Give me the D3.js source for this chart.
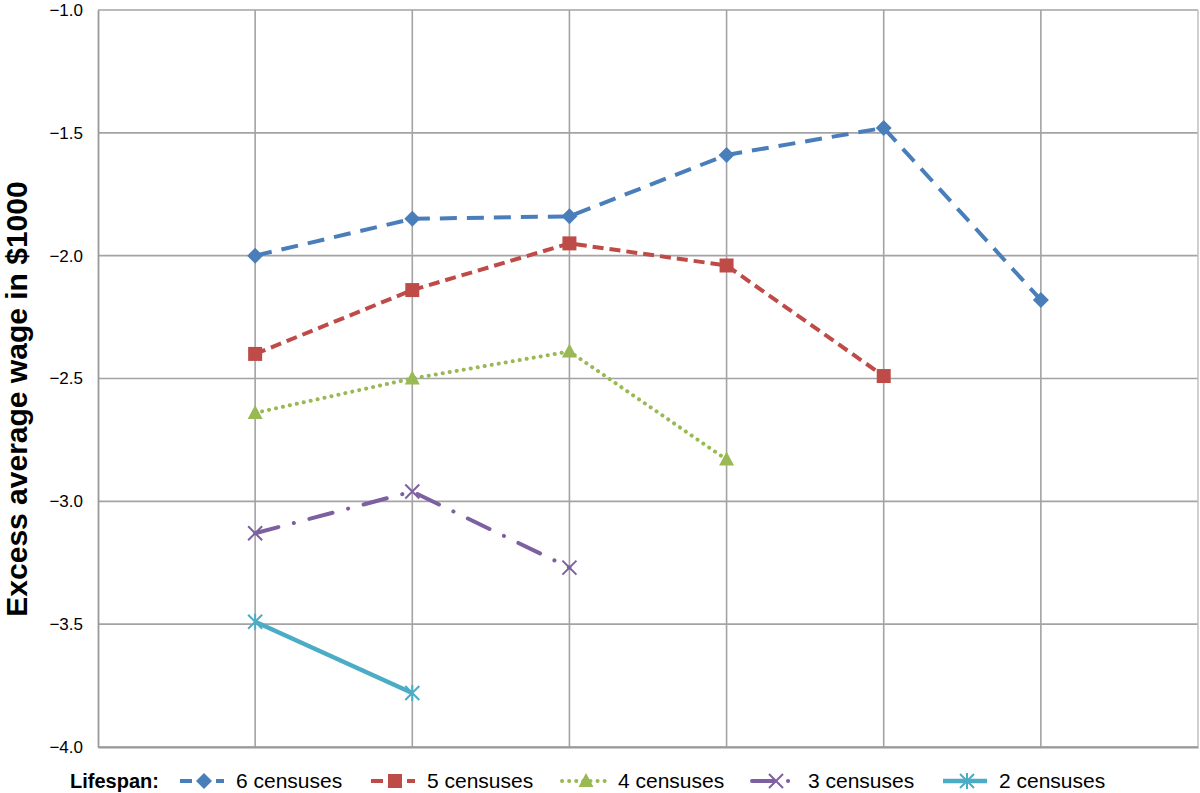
<!DOCTYPE html>
<html>
<head>
<meta charset="utf-8">
<script src="https://cdn.jsdelivr.net/npm/d3@7"></script>
<style>
  body { margin: 0; background: #fff; }
  svg { display: block; }
  text { font-family: "Liberation Sans", Arial, Helvetica, sans-serif; fill: #000; }
</style>
</head>
<body>
<svg width="1200" height="793"></svg>
<script>
// census position on the x axis (1..6)
const categories = [1, 2, 3, 4, 5, 6];
const yTicks = [-4.0, -3.5, -3.0, -2.5, -2.0, -1.5, -1.0];

const seriesNames = ["6 censuses", "5 censuses", "4 censuses", "3 censuses", "2 censuses"];
const wage6 = [-2.00, -1.85, -1.84, -1.59, -1.48, -2.18];
const wage5 = [-2.40, -2.14, -1.95, -2.04, -2.49];
const wage4 = [-2.64, -2.50, -2.39, -2.83];
const wage3 = [-3.13, -2.96, -3.27];
const wage2 = [-3.49, -3.78];

const seriesValues = [wage6, wage5, wage4, wage3, wage2];

const styles = [
    {color: "#4a7ebb", dash: "17 10", cap: "butt", width: 4, marker: "diamond"},
    {color: "#be4b48", dash: "11 6", cap: "butt", width: 4, marker: "square"},
    {color: "#98b954", dash: "0.1 7", cap: "round", width: 4, marker: "triangle"},
    {color: "#7d60a0", dash: "24 16 0.1 16", cap: "round", width: 4, marker: "x"},
    {color: "#4bacc6", dash: null, cap: "butt", width: 4.5, marker: "star"}
];

let svg = d3.select("svg");

let plotLeft = 98, plotRight = 1198, plotTop = 10, plotBottom = 747;

let x = d3.scaleLinear().domain([0, 7]).range([plotLeft, plotRight]);
let y = d3.scaleLinear().domain([-4, -1]).range([plotBottom, plotTop]);

let grid = svg.append("g").attr("class", "grid");

grid.selectAll("line.h")
    .data(yTicks)
    .enter()
    .append("line")
    .attr("class", "h")
    .attr("x1", plotLeft)
    .attr("x2", plotRight)
    .attr("y1", d => y(d))
    .attr("y2", d => y(d))
    .attr("stroke", "#a3a3a3")
    .attr("stroke-width", 1.6);

grid.selectAll("line.v")
    .data(categories)
    .enter()
    .append("line")
    .attr("class", "v")
    .attr("x1", d => x(d))
    .attr("x2", d => x(d))
    .attr("y1", plotTop)
    .attr("y2", plotBottom)
    .attr("stroke", "#a3a3a3")
    .attr("stroke-width", 1.6);

// right edge of the plot frame is lighter
svg.append("line")
    .attr("x1", plotRight).attr("x2", plotRight)
    .attr("y1", plotTop).attr("y2", plotBottom)
    .attr("stroke", "#c4c4c4").attr("stroke-width", 1.6);

let yAxis = svg.append("g")
    .attr("transform", `translate(${plotLeft},0)`)
    .call(d3.axisLeft(y).tickValues(yTicks).tickSize(0).tickPadding(15).tickFormat(d3.format(".1f")));
yAxis.select(".domain").attr("stroke", "#999").attr("stroke-width", 1.8);
yAxis.selectAll("text")
    .attr("font-size", 17)
    .attr("font-family", "Liberation Sans, Arial, sans-serif")
    .attr("fill", "#111");

let xAxis = svg.append("g")
    .attr("transform", `translate(0,${plotBottom})`)
    .call(d3.axisBottom(x).tickValues([]).tickSize(0));
xAxis.select(".domain").attr("stroke", "#999").attr("stroke-width", 2);

svg.append("text")
    .attr("transform", "translate(27,399) rotate(-90)")
    .attr("text-anchor", "middle")
    .attr("font-size", 30)
    .attr("font-weight", "bold")
    .text("Excess average wage in $1000");

function markerPath(type) {
    const s = 7;
    if (type === "diamond") return `M0,${-s - 1}L${s + 1},0L0,${s + 1}L${-s - 1},0Z`;
    if (type === "square") return `M${-s},${-s}H${s}V${s}H${-s}Z`;
    if (type === "triangle") return `M0,${-s - 1}L${s + 0.5},${s - 1}L${-s - 0.5},${s - 1}Z`;
    if (type === "x") return `M${-s},${-s}L${s},${s}M${-s},${s}L${s},${-s}`;
    return `M${-s},${-s}L${s},${s}M${-s},${s}L${s},${-s}M0,${-s - 1}L0,${s + 1}`;
}

function drawMarker(g, style, cx, cy) {
    let filled = style.marker !== "x" && style.marker !== "star";
    g.append("path")
        .attr("d", markerPath(style.marker))
        .attr("transform", `translate(${cx},${cy})`)
        .attr("fill", filled ? style.color : "none")
        .attr("stroke", style.color)
        .attr("stroke-width", filled ? 0 : 2);
}

let line = d3.line()
    .x((d, i) => x(categories[i]))
    .y(d => y(d));

let plot = svg.append("g").attr("class", "series");

seriesValues.forEach((vals, k) => {
    let st = styles[k];
    let g = plot.append("g");
    g.append("path")
        .datum(vals)
        .attr("d", line)
        .attr("fill", "none")
        .attr("stroke", st.color)
        .attr("stroke-width", st.width)
        .attr("stroke-linecap", st.cap)
        .attr("stroke-linejoin", "round")
        .attr("stroke-dasharray", st.dash);
    vals.forEach((v, i) => drawMarker(g, st, x(categories[i]), y(v)));
});

// legend
let legend = svg.append("g").attr("class", "legend");
let legendY = 781;
legend.append("text")
    .attr("x", 70)
    .attr("y", 788)
    .attr("font-size", 20)
    .attr("font-weight", "bold")
    .text("Lifespan:");

let itemX = [180, 371, 562, 752, 943];
seriesNames.forEach((name, k) => {
    let st = styles[k];
    let g = legend.append("g");
    let x0 = itemX[k];
    g.append("line")
        .attr("x1", x0).attr("x2", x0 + 44)
        .attr("y1", legendY).attr("y2", legendY)
        .attr("stroke", st.color)
        .attr("stroke-width", st.width)
        .attr("stroke-linecap", st.cap)
        .attr("stroke-dasharray", st.dash ? (k === 3 ? "22 14 0.1 14" : st.dash === "0.1 7" ? st.dash : "12 6") : null);
    drawMarker(g, st, x0 + 24, legendY);
    g.append("text")
        .attr("x", x0 + 56)
        .attr("y", 788)
        .attr("font-size", 21)
        .text(name);
});
</script>
</body>
</html>
